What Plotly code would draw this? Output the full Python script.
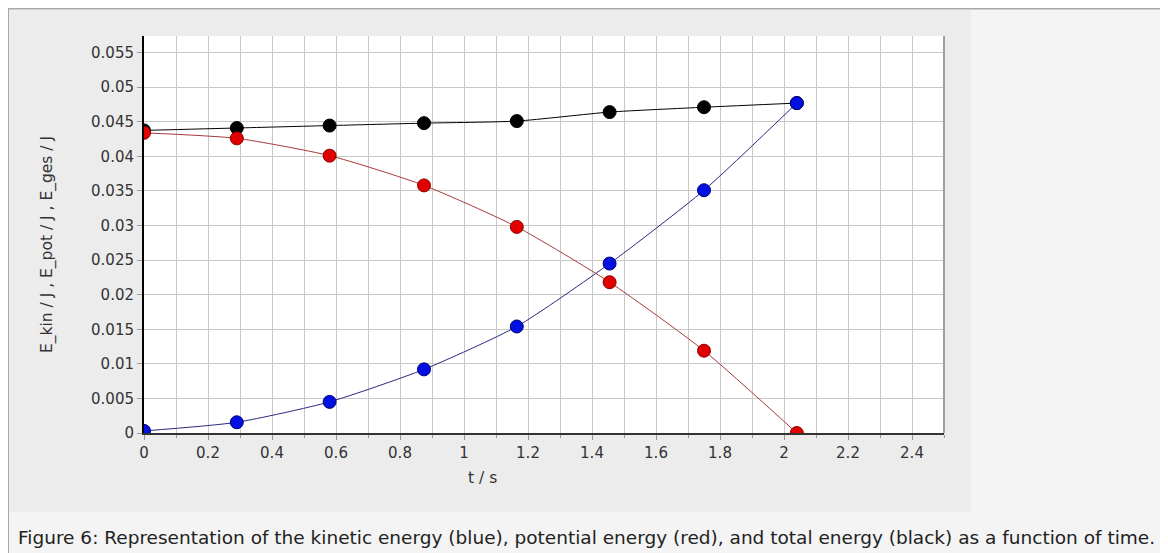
import plotly.graph_objects as go

t = [0.0, 0.29, 0.58, 0.875, 1.165, 1.455, 1.75, 2.04]
e_kin = [0.0003, 0.00155, 0.0045, 0.0092, 0.0154, 0.0245, 0.0351, 0.0477]
e_pot = [0.0434, 0.0426, 0.0401, 0.0358, 0.0298, 0.0218, 0.0119, 0.0]
e_ges = [0.04375, 0.0441, 0.04445, 0.0448, 0.0451, 0.0464, 0.0471, 0.0477]

x_title = "t / s"
y_title = "E_kin / J , E_pot / J , E_ges / J"
caption = ("Figure 6: Representation of the kinetic energy (blue), potential energy (red), "
           "and total energy (black) as a function of time.")

# page is offset by the 8px body margin; work in page coords, convert to figure coords
OFF = 8
W, H = 1168 - OFF, 553 - OFF
L, R, T, B = 144 - OFF, 944 - OFF, 36 - OFF, 433 - OFF


def px(x):
    return (x - OFF - L) / (R - L)


def py(y):
    return (B - (y - OFF)) / (B - T)


fig = go.Figure()

series = [
    (e_ges, "#000000", "#000000", "#000000"),
    (e_pot, "#a83a3a", "#e00000", "#8a0000"),
    (e_kin, "#2a2a80", "#0010e0", "#00007a"),
]
for vals, lc, mc, mlc in series:
    fig.add_trace(go.Scatter(
        x=t, y=vals, mode="lines+markers",
        line=dict(color=lc, width=1, shape="spline", smoothing=0.6),
        marker=dict(size=13, color=mc, line=dict(color=mlc, width=1)),
        showlegend=False,
    ))

shapes = [
    # chart panel
    dict(type="rect", xref="paper", yref="paper",
         x0=px(9), x1=px(971), y0=py(512), y1=py(10),
         fillcolor="#ececec", line=dict(width=0), layer="below"),
    # plot area background
    dict(type="rect", xref="paper", yref="paper",
         x0=0, x1=1, y0=0, y1=1,
         fillcolor="#ffffff", line=dict(width=0), layer="below"),
    # top border
    dict(type="line", xref="paper", yref="paper",
         x0=px(7), x1=px(1200), y0=py(8.5), y1=py(8.5),
         line=dict(color="#a8a8a8", width=2)),
    # left border
    dict(type="line", xref="paper", yref="paper",
         x0=px(8), x1=px(8), y0=py(8), y1=py(600),
         line=dict(color="#a8a8a8", width=2)),
    # plot right border
    dict(type="line", xref="paper", yref="paper",
         x0=1, x1=1, y0=0, y1=1,
         line=dict(color="#a0a0a0", width=2)),
]

annotations = [
    dict(text=caption, xref="paper", yref="paper", x=px(16), y=py(537),
         xanchor="left", yanchor="middle", showarrow=False,
         font=dict(family="DejaVu Sans", size=18.5, color="#222222")),
    dict(text=y_title, xref="paper", yref="paper", x=px(47), y=py(245),
         xanchor="center", yanchor="middle", showarrow=False, textangle=-90,
         font=dict(family="DejaVu Sans", size=15.5, color="#333333")),
    dict(text=x_title, xref="paper", yref="paper", x=px(482), y=py(478),
         xanchor="center", yanchor="middle", showarrow=False,
         font=dict(family="DejaVu Sans", size=15.5, color="#333333")),
]

fig.update_layout(
    width=W, height=H,
    margin=dict(l=L, r=W - R, t=T, b=H - B, pad=0),
    paper_bgcolor="#f4f4f4",
    plot_bgcolor="#ffffff",
    shapes=shapes,
    annotations=annotations,
    font=dict(family="DejaVu Sans", size=15, color="#333333"),
)

fig.update_xaxes(
    range=[0, 2.5], dtick=0.2, tick0=0,
    showgrid=True, gridcolor="#c8c8c8", gridwidth=1,
    minor=dict(dtick=0.1, showgrid=True, gridcolor="#c8c8c8", ticks="outside",
               ticklen=3, tickcolor="#999999"),
    ticks="outside", ticklen=5, tickcolor="#999999",
    showline=True, linecolor="#333333", linewidth=2,
    zeroline=False, fixedrange=True,
    tickfont=dict(family="DejaVu Sans", size=15, color="#333333"),
)
fig.update_yaxes(
    range=[0, 0.0574], dtick=0.005, tick0=0,
    showgrid=True, gridcolor="#c8c8c8", gridwidth=1,
    ticks="outside", ticklen=5, tickcolor="#999999",
    showline=True, linecolor="#000000", linewidth=2,
    zeroline=False, fixedrange=True,
    tickfont=dict(family="DejaVu Sans", size=15, color="#333333"),
)

fig.write_html("out.html")
